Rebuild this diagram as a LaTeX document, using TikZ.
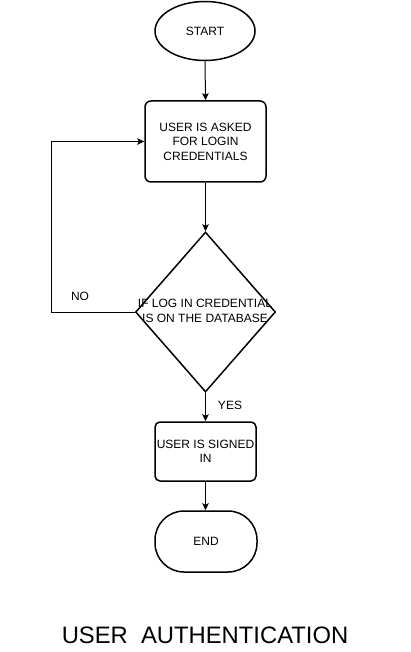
\documentclass[tikz,border=0pt]{standalone}
\usepackage{fontspec}
\setmainfont{Liberation Sans}
\usetikzlibrary{shapes.geometric,arrows.meta}
\begin{document}
\begin{tikzpicture}[x=1pt,y=1pt,
  shapeline/.style={draw=black,line width=1.5pt},
  lbl/.style={font=\fontsize{12}{14.5}\selectfont,align=center,inner sep=0pt},
  conn/.style={draw=black,line width=1pt,-{Stealth[length=7pt,width=6.5pt,inset=1.5pt]}},
  plain/.style={draw=black,line width=1pt}]
\useasboundingbox (0,0) rectangle (410,-652);
\node[shapeline,ellipse,minimum width=100pt,minimum height=59pt,inner sep=0pt,lbl] (start) at (205,-31) {START};
\node[shapeline,rectangle,rounded corners=6pt,minimum width=121pt,minimum height=81pt,inner sep=0pt,lbl] (ask) at (205.5,-141.5) {USER IS ASKED\\FOR LOGIN\\CREDENTIALS};
\node[shapeline,diamond,aspect=0.875,minimum width=140pt,minimum height=160pt,inner sep=0pt] (dec) at (205.5,-312) {};
\node[lbl] (dectext) at (205,-311) {IF LOG IN CREDENTIAL\\IS ON THE DATABASE};
\node[shapeline,rectangle,rounded corners=5pt,minimum width=101pt,minimum height=59pt,inner sep=0pt,lbl] (signed) at (205.5,-451.5) {USER IS SIGNED\\IN};
\node[shapeline,rectangle,rounded corners=29pt,minimum width=102pt,minimum height=61pt,inner sep=0pt,lbl] (end) at (206,-541.5) {END};
\node[lbl] (no) at (80,-296) {NO};
\node[lbl] (yes) at (230,-405) {YES};
\node[font=\fontsize{23.8}{28}\selectfont,inner sep=0pt] (title) at (205,-635) {USER\ \ AUTHENTICATION};
\coordinate (lb) at (51,-312);
\coordinate (lt) at (51,-141.5);
\draw[conn] (start.south) -- (ask.north);
\draw[conn] (ask.south) -- (dec.north);
\draw[conn] (dec.south) -- (signed.north);
\draw[conn] (signed.south) -- (signed.south |- end.north);
\draw[conn] (dec.west) -- (lb) -- (lt) -- (ask.west);
\end{tikzpicture}
\end{document}
